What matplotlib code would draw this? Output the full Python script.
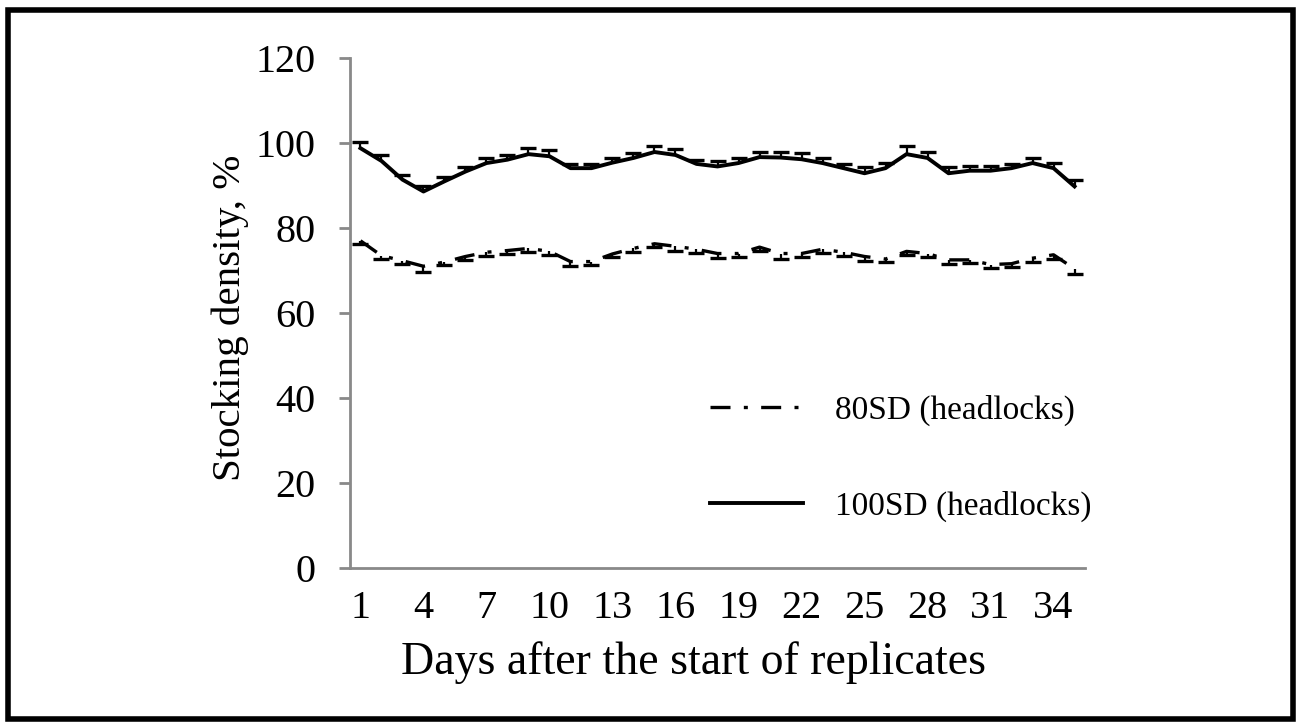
import numpy as np
import matplotlib
matplotlib.use("Agg")
import matplotlib.pyplot as plt
from matplotlib.patches import Rectangle

plt.rcParams['font.family'] = ['Liberation Serif', 'DejaVu Serif']

# days after start of replicates
days = list(range(1, 36))
tick_days = [1, 4, 7, 10, 13, 16, 19, 22, 25, 28, 31, 34]

# 80SD (headlocks) mean and SE (bars point down)
sd80 = [77.0, 73.5, 72.3, 71.0, 72.0, 73.3, 74.3, 74.7, 75.2, 74.5,
        72.1, 72.1, 73.9, 75.2, 76.3, 75.7, 75.0, 74.0, 74.0, 75.5,
        74.0, 74.0, 75.0, 74.3, 73.3, 72.7, 74.5, 74.0, 72.5, 72.5,
        71.4, 71.6, 72.9, 73.7, 70.4]
sd80_err = [0.8, 0.8, 0.8, 1.3, 0.8, 0.8, 0.8, 0.8, 0.8, 0.8,
            1.0, 0.8, 0.8, 0.8, 0.8, 1.0, 0.8, 1.0, 0.8, 0.8,
            1.2, 0.8, 0.8, 0.8, 1.0, 0.8, 0.8, 0.8, 1.0, 0.8,
            0.8, 0.8, 0.8, 1.0, 1.2]

# 100SD (headlocks) mean and SE (bars point up)
sd100 = [98.8, 95.8, 91.4, 88.6, 91.0, 93.3, 95.3, 96.1, 97.4, 96.9,
         94.1, 94.1, 95.4, 96.5, 97.9, 97.2, 95.1, 94.5, 95.3, 96.7,
         96.6, 96.2, 95.3, 94.1, 92.9, 94.1, 97.4, 96.5, 92.9, 93.5,
         93.5, 94.1, 95.3, 94.1, 89.8]
sd100_err = [1.5, 1.5, 1.2, 1.2, 0.9, 1.0, 1.2, 1.0, 1.4, 1.5,
             1.0, 1.0, 1.2, 1.1, 1.5, 1.4, 0.9, 1.3, 1.2, 1.3,
             1.2, 1.4, 1.2, 0.9, 1.4, 1.3, 1.8, 1.4, 1.4, 1.0,
             1.0, 0.9, 1.2, 1.3, 1.6]

fig = plt.figure(figsize=(13.01, 7.27), dpi=100)
ax = fig.add_axes([0.269, 0.219, 0.565, 0.701])

x = np.array(days)
y80 = np.array(sd80)
e80 = np.array(sd80_err)
y100 = np.array(sd100)
e100 = np.array(sd100_err)

# error bars: plus only for 100SD, minus only for 80SD
ax.vlines(x, y100, y100 + e100, color='black', lw=1.6, zorder=2)
ax.plot(x, y100 + e100, ls='none', marker='_', ms=11, mew=2.4, color='black', zorder=2)
ax.vlines(x, y80 - e80, y80, color='black', lw=1.6, zorder=2)
ax.plot(x, y80 - e80, ls='none', marker='_', ms=11, mew=2.4, color='black', zorder=2)

ax.plot(x, y80, color='black', lw=2.4, ls=(0, (6, 4, 1.2, 4)),
        label='80SD (headlocks)', zorder=3)
ax.plot(x, y100, color='black', lw=2.8, ls='-',
        label='100SD (headlocks)', zorder=3)

ax.set_xlim(0.5, 35.5)
ax.set_ylim(0, 120)
ax.set_xticks(tick_days)
ax.set_xticklabels([str(d) for d in tick_days])
ax.set_yticks(range(0, 121, 20))

for s in ['top', 'right']:
    ax.spines[s].set_visible(False)
for s in ['left', 'bottom']:
    ax.spines[s].set_color('#898989')
    ax.spines[s].set_linewidth(2)

ax.tick_params(axis='y', direction='out', length=8, width=2, color='#898989',
               labelsize=29, pad=17)
ax.tick_params(axis='x', length=0, labelsize=29, pad=16)

ax.set_xlabel('Days after the start of replicates', fontsize=33)
ax.set_ylabel('Stocking density, %', fontsize=29.5)
ax.xaxis.set_label_coords(0.467, -0.144)
ax.yaxis.set_label_coords(-0.137, 0.49)

ax.legend(loc='upper left', bbox_to_anchor=(0.49, 0.34), frameon=False,
          fontsize=24, handlelength=2.8, labelspacing=1.95, handletextpad=0.95,
          borderpad=0, borderaxespad=0)

fig.add_artist(Rectangle((0.006, 0.011), 0.988, 0.975, transform=fig.transFigure,
                         fill=False, edgecolor='black', lw=4))

fig.savefig('out.png', dpi=100)
